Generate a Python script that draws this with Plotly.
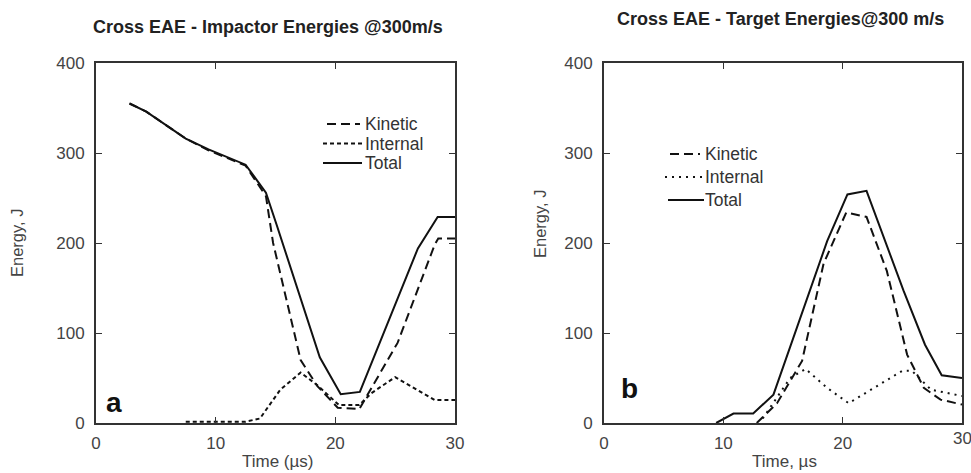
import plotly.graph_objects as go

# ---- Impactor energies (panel a) ----
imp_t_total = [2.8, 4.2, 7.5, 9.4, 12.5, 14.2, 15.1, 18.7, 20.45, 22.05, 26.9, 28.55, 30.0]
imp_total = [355, 346, 316, 304, 287, 256, 220, 73, 32, 34.5, 194, 229, 229]

imp_t_kin = [2.8, 4.2, 7.5, 9.4, 12.5, 14.2, 14.8, 17.1, 18.5, 20.2, 22.0, 25.2, 28.3, 28.6, 30.0]
imp_kinetic = [355, 346, 316, 303, 286, 252, 200, 70, 41, 17, 15.5, 89, 198, 205, 205]

imp_t_int = [7.5, 12.5, 13.7, 15.4, 17.1, 18.5, 20.3, 22.0, 23.0, 25.0, 28.3, 30.0]
imp_internal = [1.5, 1.5, 5, 37, 56, 42, 20, 20, 33, 51, 25.5, 25.5]

# ---- Target energies (panel b) ----
tgt_t_total = [9.4, 10.85, 12.5, 14.2, 18.7, 20.4, 22.0, 25.1, 26.9, 28.3, 30.0]
tgt_total = [0, 10.5, 10.5, 31.5, 202, 254, 258, 147, 87, 53, 50]

tgt_t_kin = [12.8, 14.5, 16.6, 18.4, 20.3, 22.0, 23.7, 25.4, 26.8, 28.2, 30.0]
tgt_kinetic = [0, 22, 69, 177, 234, 229, 169, 76, 39, 26, 20.5]

tgt_t_int = [13.3, 15.6, 16.9, 18.7, 20.5, 22.6, 25.0, 25.8, 27.4, 30.0]
tgt_internal = [5, 50, 60, 39, 22, 39, 58, 58, 37, 30]

x_tick_vals = [0, 10, 20, 30]
y_tick_vals = [0, 100, 200, 300, 400]

titles = ["Cross EAE - Impactor Energies @300m/s", "Cross EAE - Target Energies@300 m/s"]
x_titles = ["Time (µs)", "Time, µs"]
y_title = "Energy, J"
panel_tags = ["a", "b"]
series_names = ["Kinetic", "Internal", "Total"]

FONT = "Liberation Sans, Arial, sans-serif"
INK = "#111111"
AXIS = "#333333"
GREY_TXT = "#444444"

# line styles per panel: kinetic, internal, total
styles_a = [dict(color=INK, width=2, dash="9px,5px"),
            dict(color=INK, width=2, dash="4px,3px"),
            dict(color=INK, width=2)]
styles_b = [dict(color=INK, width=2, dash="9px,5px"),
            dict(color=INK, width=2, dash="2px,5px"),
            dict(color=INK, width=2)]

fig = go.Figure()

panel_a = [(imp_t_kin, imp_kinetic), (imp_t_int, imp_internal), (imp_t_total, imp_total)]
panel_b = [(tgt_t_kin, tgt_kinetic), (tgt_t_int, tgt_internal), (tgt_t_total, tgt_total)]

for (xs, ys), name, st in zip(panel_a, series_names, styles_a):
    fig.add_trace(go.Scatter(x=xs, y=ys, mode="lines", name=name, line=st,
                             xaxis="x", yaxis="y", showlegend=False))
for (xs, ys), name, st in zip(panel_b, series_names, styles_b):
    fig.add_trace(go.Scatter(x=xs, y=ys, mode="lines", name=name, line=st,
                             xaxis="x2", yaxis="y2", showlegend=False))

W, H = 971, 473
dom_a = [96 / W, 455 / W]
dom_b = [604 / W, 962 / W]
dom_y = [(H - 423) / H, (H - 63) / H]


def px(x):
    return x / W


def py(y):
    return (H - y) / H


axis_common = dict(
    showgrid=False, zeroline=False, showline=True, linecolor=AXIS, linewidth=2,
    mirror="ticks", ticks="inside", ticklen=6, tickwidth=1, tickcolor=AXIS,
    tickfont=dict(family=FONT, size=17, color=GREY_TXT), automargin=False,
    ticklabeloverflow="allow",
)

fig.update_layout(
    width=W, height=H,
    margin=dict(l=0, r=0, t=0, b=0, autoexpand=False),
    paper_bgcolor="white", plot_bgcolor="white",
    font=dict(family=FONT, color=INK),
    showlegend=False,
    xaxis=dict(domain=dom_a, range=[0, 30], tickvals=x_tick_vals, anchor="y",
               ticklabelstandoff=4, **axis_common),
    yaxis=dict(domain=dom_y, range=[0, 400], tickvals=y_tick_vals, anchor="x",
               ticklabelstandoff=6, **axis_common),
    # last label of the right panel sits on the page edge; it is drawn below as text
    xaxis2=dict(domain=dom_b, range=[0, 30], tickvals=x_tick_vals[:-1], anchor="y2",
                ticklabelstandoff=4, **axis_common),
    yaxis2=dict(domain=dom_y, range=[0, 400], tickvals=y_tick_vals, anchor="x2",
                ticklabelstandoff=6, **axis_common),
)

# edge tick label of panel b (partly cut by the page edge)
fig.add_annotation(text=str(x_tick_vals[-1]), xref="x2", yref="paper",
                   x=x_tick_vals[-1], y=py(438), xanchor="center", yanchor="middle",
                   showarrow=False, font=dict(family=FONT, size=17, color=GREY_TXT))

# subplot titles
for txt, cx, cy in [(titles[0], 268, 27), (titles[1], 780, 19)]:
    fig.add_annotation(text=f"<b>{txt}</b>", xref="paper", yref="paper",
                       x=px(cx), y=py(cy), xanchor="center", yanchor="middle",
                       showarrow=False, font=dict(family=FONT, size=18, color="#222222"))

# axis titles
for txt, cx, cy in [(x_titles[0], 278, 461), (x_titles[1], 784, 461)]:
    fig.add_annotation(text=txt, xref="paper", yref="paper", x=px(cx), y=py(cy),
                       xanchor="center", yanchor="middle", showarrow=False,
                       font=dict(family=FONT, size=17, color=GREY_TXT))
for cx, cy in [(17, 243), (540, 224)]:
    fig.add_annotation(text=y_title, xref="paper", yref="paper", x=px(cx), y=py(cy),
                       xanchor="center", yanchor="middle", textangle=-90, showarrow=False,
                       font=dict(family=FONT, size=16.5, color=GREY_TXT))

# panel tags
for tag, cx, cy in [(panel_tags[0], 114, 402), (panel_tags[1], 629, 388)]:
    fig.add_annotation(text=f"<b>{tag}</b>", xref="paper", yref="paper", x=px(cx), y=py(cy),
                       xanchor="center", yanchor="middle", showarrow=False,
                       font=dict(family=FONT, size=28, color=INK))

# legends: key line sample + label per series
legend_a = dict(rows=[124, 143.5, 163], x0=[327, 323, 323], x1=[360, 362, 362], tx=363)
legend_b = dict(rows=[154, 177, 200], x0=[670, 665, 668], x1=[700, 702, 704], tx=703)
for leg, styles in [(legend_a, styles_a), (legend_b, styles_b)]:
    for name, st, ry, a, b in zip(series_names, styles, leg["rows"], leg["x0"], leg["x1"]):
        fig.add_shape(type="line", xref="paper", yref="paper",
                      x0=px(a), x1=px(b), y0=py(ry), y1=py(ry),
                      line=dict(color=st["color"], width=1.8, dash=st.get("dash", "solid")))
        fig.add_annotation(text=name, xref="paper", yref="paper", x=px(leg["tx"]), y=py(ry),
                           xanchor="left", yanchor="middle", showarrow=False,
                           font=dict(family=FONT, size=17.5, color="#333333"))

fig.write_html("out.html")
